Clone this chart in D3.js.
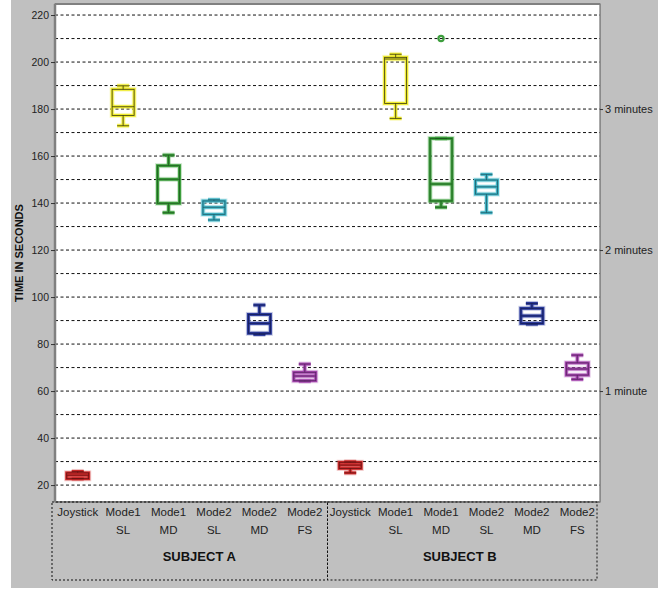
<!DOCTYPE html>
<html>
<head>
<meta charset="utf-8">
<script src="https://cdn.jsdelivr.net/npm/d3@7"></script>
<style>
  body { margin: 0; background: #fff; }
  svg { display: block; font-family: "Liberation Sans", Arial, sans-serif; }
</style>
</head>
<body>
<svg id="chart" width="670" height="589"></svg>
<script>
// categories, two subjects with six modes each
const subjects = ['SUBJECT A', 'SUBJECT B']
const labelTop = ['Joystick', 'Mode1', 'Mode1', 'Mode2', 'Mode2', 'Mode2']
const labelBottom = ['', 'SL', 'MD', 'SL', 'MD', 'FS']

// box plot values (seconds), A then B
const whiskerLow = [22.7, 172.9, 135.9, 132.8, 84.1, 64.2, 25.2, 176.0, 138.2, 135.9, 88.5, 65.0]
const q1 = [22.7, 177.3, 139.9, 135.2, 84.6, 64.4, 27.1, 182.4, 140.9, 143.8, 88.8, 66.8]
const median = [24.2, 181.0, 150.1, 138.2, 88.8, 66.4, 28.5, 201.3, 148.1, 146.9, 92.0, 69.4]
const q3 = [25.2, 188.4, 155.9, 140.9, 92.6, 68.0, 29.7, 202.0, 167.5, 149.8, 95.2, 72.0]
const whiskerHigh = [25.8, 189.9, 160.4, 141.4, 96.6, 71.5, 29.9, 203.3, 167.5, 152.2, 97.3, 75.3]

const outlierIndex = [8]
const outlierValue = [210]

const yTicks = [20, 40, 60, 80, 100, 120, 140, 160, 180, 200, 220]
const gridTicks = d3.range(20, 221, 10)
const minuteTicks = [60, 120, 180]
const minuteLabels = ['1 minute', '2 minutes', '3 minutes']

const colors = ['#cc2a2a', '#eeea2a', '#3d9e3d', '#40b3c4', '#2b3a9c', '#a546ae']
const inner = ['#5a1010', '#2a2a10', '#1d561d', '#1a5562', '#121a50', '#4e1e58']

const svg = d3.select('#chart')

const plot = { left: 55, right: 600, top: 4, bottom: 502 }

const keys = d3.range(subjects.length * labelTop.length)
const x = d3.scaleBand().domain(keys).range([plot.left, plot.right])
const cx = i => x(i) + x.bandwidth() / 2
const y = d3.scaleLinear().domain([12.8, 224.7]).range([plot.bottom, plot.top])

// background
svg.append('rect').attr('x', 11).attr('y', 0).attr('width', 647).attr('height', 588).attr('fill', '#c0c0c0')
svg.append('rect')
  .attr('x', plot.left).attr('y', plot.top)
  .attr('width', plot.right - plot.left).attr('height', plot.bottom - plot.top)
  .attr('fill', '#fff')

// grid
svg.append('g').selectAll('line').data(gridTicks).join('line')
  .attr('x1', plot.left).attr('x2', plot.right)
  .attr('y1', d => y(d)).attr('y2', d => y(d))
  .attr('stroke', '#111').attr('stroke-width', 1).attr('stroke-dasharray', '3,2.5')

// plot border
svg.append('rect')
  .attr('x', plot.left).attr('y', plot.top)
  .attr('width', plot.right - plot.left).attr('height', plot.bottom - plot.top)
  .attr('fill', 'none').attr('stroke', '#555').attr('stroke-width', 1)
svg.append('line').attr('x1', plot.left).attr('x2', plot.left).attr('y1', plot.top).attr('y2', plot.bottom)
  .attr('stroke', '#808080').attr('stroke-width', 2.5)
svg.append('line').attr('x1', plot.left).attr('x2', plot.right).attr('y1', plot.top).attr('y2', plot.top)
  .attr('stroke', '#808080').attr('stroke-width', 2)
svg.append('line').attr('x1', plot.left).attr('x2', plot.right).attr('y1', plot.bottom).attr('y2', plot.bottom)
  .attr('stroke', '#808080').attr('stroke-width', 2)

// left axis
const yAxis = svg.append('g')
  .attr('transform', `translate(${plot.left},0)`)
  .call(d3.axisLeft(y).tickValues(yTicks).tickSize(4).tickPadding(2))
yAxis.select('.domain').remove()
yAxis.selectAll('text').attr('font-size', 10.5).attr('fill', '#222')
yAxis.selectAll('line').attr('stroke', '#333')

// right axis, minutes
const rAxis = svg.append('g')
  .attr('transform', `translate(${plot.right},0)`)
  .call(d3.axisRight(y).tickValues(minuteTicks).tickFormat((d, i) => minuteLabels[i]).tickSize(3).tickPadding(2))
rAxis.select('.domain').remove()
rAxis.selectAll('text').attr('font-size', 11).attr('fill', '#222')
rAxis.selectAll('line').attr('stroke', '#333')

// y title
svg.append('text')
  .attr('transform', 'translate(23,253) rotate(-90)')
  .attr('text-anchor', 'middle')
  .attr('font-size', 11).attr('font-weight', 'bold').attr('fill', '#111')
  .text('TIME IN SECONDS')

// boxes
const boxW = 22
const capW = 12
const g = svg.append('g')

function drawBox (sel, i, color, width, opacity) {
  const c = cx(i)
  sel.append('line')
    .attr('x1', c).attr('x2', c).attr('y1', y(whiskerHigh[i])).attr('y2', y(q3[i]))
  sel.append('line')
    .attr('x1', c).attr('x2', c).attr('y1', y(q1[i])).attr('y2', y(whiskerLow[i]))
  sel.append('line')
    .attr('x1', c - capW / 2).attr('x2', c + capW / 2).attr('y1', y(whiskerHigh[i])).attr('y2', y(whiskerHigh[i]))
  sel.append('line')
    .attr('x1', c - capW / 2).attr('x2', c + capW / 2).attr('y1', y(whiskerLow[i])).attr('y2', y(whiskerLow[i]))
  sel.append('rect')
    .attr('x', c - boxW / 2).attr('y', y(q3[i]))
    .attr('width', boxW).attr('height', Math.max(1, y(q1[i]) - y(q3[i])))
    .attr('fill', 'none')
  sel.append('line')
    .attr('x1', c - boxW / 2).attr('x2', c + boxW / 2).attr('y1', y(median[i])).attr('y2', y(median[i]))
  sel.selectAll('line, rect').attr('stroke', color).attr('stroke-width', width).attr('stroke-opacity', opacity)
}

keys.forEach(i => {
  const m = i % labelTop.length
  drawBox(g.append('g'), i, colors[m], 5, 0.25)
  drawBox(g.append('g'), i, colors[m], 3, 1)
  drawBox(g.append('g'), i, inner[m], 0.8, 0.9)
})

// outliers
svg.append('g').selectAll('circle').data(outlierIndex).join('circle')
  .attr('cx', d => cx(d)).attr('cy', (d, j) => y(outlierValue[j]))
  .attr('r', 2.6)
  .attr('fill', 'none').attr('stroke', d => colors[d % labelTop.length]).attr('stroke-width', 2.2)

// category labels
const labels = svg.append('g').attr('font-size', 11.5).attr('fill', '#222').attr('text-anchor', 'middle')
labels.selectAll('text.top').data(keys).join('text')
  .attr('class', 'top')
  .attr('x', d => cx(d)).attr('y', 516)
  .text(d => labelTop[d % labelTop.length])
labels.selectAll('text.bottom').data(keys).join('text')
  .attr('class', 'bottom')
  .attr('x', d => cx(d)).attr('y', 534)
  .text(d => labelBottom[d % labelBottom.length])

// subject groups
const n = labelTop.length
subjects.forEach((s, k) => {
  const x0 = k === 0 ? plot.left - 3 : x(k * n)
  const x1 = k === subjects.length - 1 ? plot.right - 3 : x((k + 1) * n)
  svg.append('rect')
    .attr('x', x0).attr('y', plot.bottom).attr('width', x1 - x0).attr('height', 78)
    .attr('fill', 'none').attr('stroke', '#111').attr('stroke-width', 1).attr('stroke-dasharray', '2,2')
  svg.append('text')
    .attr('x', (cx(k * n) + cx((k + 1) * n - 1)) / 2 + (k === 0 ? 8 : -4)).attr('y', 561)
    .attr('text-anchor', 'middle').attr('font-size', 13).attr('font-weight', 'bold').attr('fill', '#111')
    .text(s)
})
</script>
</body>
</html>
